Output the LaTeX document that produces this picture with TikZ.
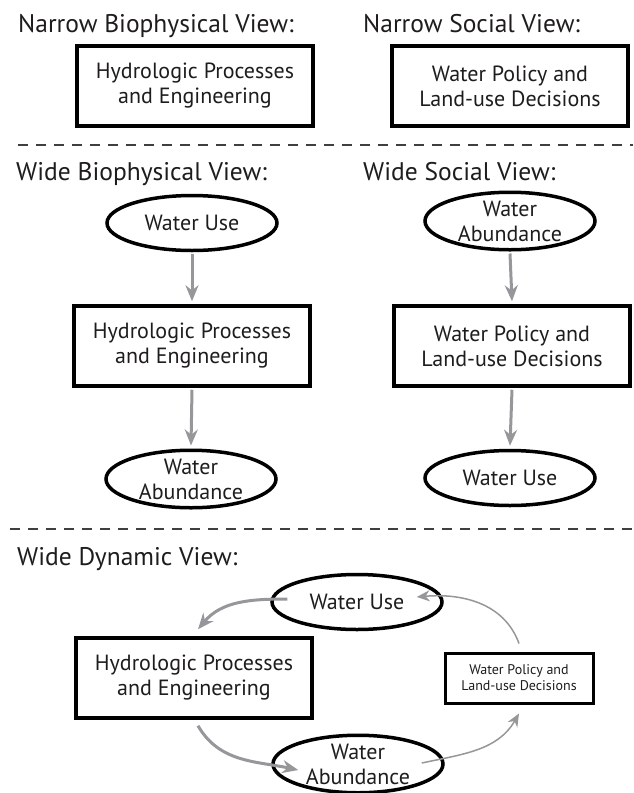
\documentclass[tikz,border=0pt]{standalone}
\usepackage{fontspec}
\setmainfont{PT Sans}
\usepackage{tikz}
\usetikzlibrary{arrows.meta,shapes.geometric}

\definecolor{ink}{RGB}{30,28,29}
\definecolor{arrowgray}{RGB}{150,150,155}

\begin{document}
\begin{tikzpicture}[x=1pt,y=-1pt,
    every node/.style={text=ink},
    heading/.style={anchor=base west,inner sep=0pt,font=\fontsize{25.5}{30}\selectfont},
    procbox/.style={draw=black,line width=3.5pt,minimum width=236pt,minimum height=80pt,align=center,font=\fontsize{22}{25}\selectfont},
    smallbox/.style={draw=black,line width=3pt,minimum width=148pt,minimum height=50pt,align=center,font=\fontsize{14}{16}\selectfont},
    stock/.style={draw=black,ellipse,line width=3.5pt,minimum width=170pt,minimum height=55pt,inner sep=0pt,align=center,font=\fontsize{22}{25}\selectfont},
    flow/.style={draw=arrowgray,line width=3pt,-{Stealth[length=16pt,width=13pt]}},
    thinflow/.style={draw=arrowgray,line width=1.5pt,-{Stealth[length=13pt,width=11pt]}},
    divider/.style={draw=ink!85,line width=2pt,dash pattern=on 10pt off 8pt}]
\useasboundingbox (0,0) rectangle (633,793);
% narrow views
\node[heading] (t1) at (18,32) {Narrow Biophysical View:};
\node[heading] (t2) at (363,32) {Narrow Social View:};
\node[procbox] (b1) at (195,86) {Hydrologic Processes\\and Engineering};
\node[procbox] (b2) at (510,86) {Water Policy and\\Land-use Decisions};
\draw[divider] (18,145) -- (633,145);
% wide views
\node[heading] (t3) at (16,180) {Wide Biophysical View:};
\node[heading] (t4) at (363,180) {Wide Social View:};
\node[stock] (e1) at (192,223) {Water Use};
\node[stock] (e2) at (510,221) {Water\\Abundance};
\node[procbox] (b3) at (192,346) {Hydrologic Processes\\and Engineering};
\node[procbox] (b4) at (512,346) {Water Policy and\\Land-use Decisions};
\node[stock] (e3) at (191,479) {Water\\Abundance};
\node[stock] (e4) at (510,478) {Water Use};
\foreach \a/\b in {e1/b3,b3/e3,e2/b4,b4/e4}
    \draw[flow] ([yshift=-2pt]\a.south) -- ([yshift=3pt]\b.north);
\draw[divider] (10,529) -- (633,529);
% dynamic view
\node[heading] (t5) at (17,565) {Wide Dynamic View:};
\node[stock] (e5) at (357,602) {Water Use};
\node[procbox] (b5) at (194,678) {Hydrologic Processes\\and Engineering};
\node[smallbox] (b6) at (519,678) {Water Policy and\\Land-use Decisions};
\node[stock] (e6) at (358,764) {Water\\Abundance};
\draw[flow] ([xshift=17pt,yshift=3pt]e5.west) to[out=180,in=50] ([xshift=4pt,yshift=7pt]b5.north);
\draw[flow] ([xshift=4pt,yshift=-6pt]b5.south) to[out=-60,in=168] ([xshift=27pt,yshift=-6pt]e6.west);
\draw[thinflow] ([xshift=-23pt,yshift=1pt]e6.east) to[out=12,in=240] ([yshift=-9pt]b6.south);
\draw[thinflow] ([yshift=8pt]b6.north) to[out=110,in=5] ([xshift=-27pt,yshift=5pt]e5.east);
\end{tikzpicture}
\end{document}
